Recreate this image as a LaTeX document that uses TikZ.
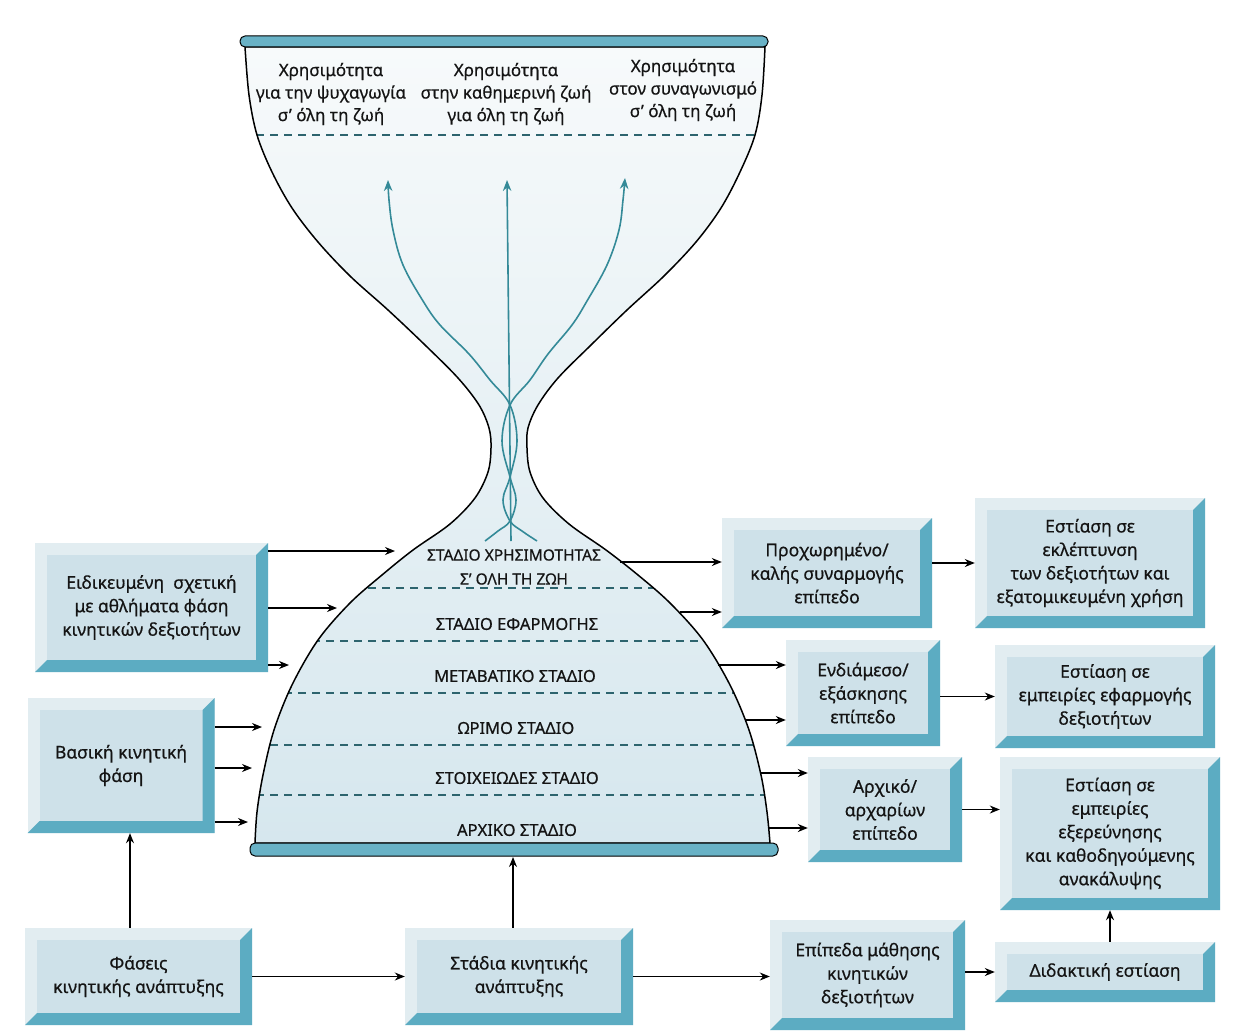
\documentclass[tikz,border=0pt]{standalone}
\usepackage{fontspec}
\setmainfont{Noto Sans}[FakeBold=0.6]
\usetikzlibrary{arrows.meta}
\definecolor{bvteal}{RGB}{92,172,194}
\definecolor{bvface}{RGB}{206,225,233}
\definecolor{bvlight}{RGB}{226,237,241}
\definecolor{strand}{RGB}{52,138,152}
\definecolor{barteal}{RGB}{105,178,198}
\definecolor{dashc}{RGB}{45,100,110}
\definecolor{txt}{RGB}{20,20,20}
\definecolor{hgtop}{RGB}{247,250,251}
\definecolor{hgmid}{RGB}{233,242,245}
\definecolor{hgbot}{RGB}{214,231,238}
\newlength\bvd
\setlength\bvd{12pt}
\def\hgpath{plot[smooth, tension=0.55] coordinates {(245,47) (249,95) (257,135) (272,172) (292,208) (318,242) (350,276) (388,310) (425,345) (458,378) (479,405) (489,428) (491,448) (488,472) (475,498) (450,524) (413,550) (382,575) (350,603) (318,640) (292,685) (274,730) (263,775) (257,812) (255,843)}
 -- plot[smooth, tension=0.55] coordinates {(770,843) (767,812) (761,775) (749,730) (730,685) (703,640) (670,603) (638,575) (606,550) (569,524) (543,498) (530,472) (527,448) (528,428) (538,405) (558,378) (591,345) (627,310) (664,276) (696,242) (721,208) (740,172) (755,135) (762,95) (765,47)} -- cycle}
\tikzset{
  bx/.style={fill=bvlight, inner sep=0pt, align=center, text=txt,
    font=\fontsize{17.5}{23.5}\selectfont,
    path picture={
      \fill[bvface] ([shift={(\bvd,-\bvd)}]path picture bounding box.north west) rectangle ([shift={(-\bvd,\bvd)}]path picture bounding box.south east);
      \fill[bvteal] (path picture bounding box.north east) -- (path picture bounding box.south east) -- (path picture bounding box.south west) -- ([shift={(\bvd,\bvd)}]path picture bounding box.south west) -- ([shift={(-\bvd,\bvd)}]path picture bounding box.south east) -- ([shift={(-\bvd,-\bvd)}]path picture bounding box.north east) -- cycle;
    }},
  arr/.style={draw=black, line width=1.3pt, -{Stealth[length=10pt,width=8pt]}},
  sarr/.style={draw=strand, line width=1.6pt, -{Stealth[length=11pt,width=8.5pt]}},
  toplbl/.style={align=center, text=txt, inner sep=0pt, font=\fontsize{17}{22.5}\selectfont},
  stg/.style={align=center, text=txt, inner sep=0pt, font=\fontsize{16.5}{24}\selectfont},
  dsh/.style={draw=dashc, line width=1.1pt, dash pattern=on 8pt off 6pt},
  bar/.style={draw=black, line width=1pt, fill=barteal, rounded corners=5pt}
}
\begin{document}
\begin{tikzpicture}[x=1pt,y=-1pt]
\useasboundingbox[fill=white] (0,0) rectangle (1242,1033);

% hourglass body
\shade[top color=hgtop, middle color=hgmid, bottom color=hgbot] \hgpath;
\begin{scope}
  \clip \hgpath;
  \foreach \yy in {135,588,641,693,745,795} {
    \draw[dsh] (200,\yy) -- (820,\yy);
  }
\end{scope}
\draw[line width=1.5pt] \hgpath;

% bars
\draw[bar] (240,36) rectangle (768,47);
\draw[bar] (250,843) rectangle (778,856);

% strands
\draw[sarr] (511,541) -- (507,180);
\draw[sarr] plot[smooth, tension=0.6] coordinates {(537,541) (522,531) (510,521) (503,500) (510,477) (517,441) (510,405) (490,380) (469,354) (440,325) (423,301) (403,265) (393,230) (389,200) (388,180)};
\draw[sarr] plot[smooth, tension=0.6] coordinates {(485,541) (498,531) (510,521) (516,500) (510,477) (502,441) (510,405) (530,380) (548,354) (572,325) (587,301) (607,265) (619,230) (623,200) (625,178)};

% top labels
\node[toplbl] (u1) at (331,94) {Χρησιμότητα\\για την ψυχαγωγία\\σ’ όλη τη ζωή};
\node[toplbl] (u2) at (506,94) {Χρησιμότητα\\στην καθημερινή ζωή\\για όλη τη ζωή};
\node[toplbl] (u3) at (683,90) {Χρησιμότητα\\στον συναγωνισμό\\σ’ όλη τη ζωή};

% stage labels
\node[stg, font=\fontsize{15.5}{24}\selectfont] (s6) at (514,567) {ΣΤΑΔΙΟ ΧΡΗΣΙΜΟΤΗΤΑΣ\\Σ’ ΟΛΗ ΤΗ ΖΩΗ};
\node[stg] (s5) at (517,624) {ΣΤΑΔΙΟ ΕΦΑΡΜΟΓΗΣ};
\node[stg] (s4) at (515,676) {ΜΕΤΑΒΑΤΙΚΟ ΣΤΑΔΙΟ};
\node[stg] (s3) at (516,728) {ΩΡΙΜΟ ΣΤΑΔΙΟ};
\node[stg] (s2) at (517,778) {ΣΤΟΙΧΕΙΩΔΕΣ ΣΤΑΔΙΟ};
\node[stg] (s1) at (517,830) {ΑΡΧΙΚΟ ΣΤΑΔΙΟ};

% boxes
\node[bx, minimum width=233pt, minimum height=129pt] (A) at (151.5,607.5) {Ειδικευμένη \ σχετική\\με αθλήματα φάση\\κινητικών δεξιοτήτων};
\node[bx, minimum width=187pt, minimum height=135pt] (B) at (121,765.5) {Βασική κινητική\\φάση};
\node[bx, minimum width=227pt, minimum height=97pt] (C) at (138.5,976.5) {Φάσεις\\κινητικής ανάπτυξης};
\node[bx, minimum width=228pt, minimum height=97pt] (D) at (519,976.5) {Στάδια κινητικής\\ανάπτυξης};
\node[bx, minimum width=195pt, minimum height=110pt] (E) at (867.5,975) {Επίπεδα μάθησης\\κινητικών\\δεξιοτήτων};
\node[bx, minimum width=220pt, minimum height=60pt] (F) at (1105,972) {Διδακτική εστίαση};
\node[bx, minimum width=210pt, minimum height=110pt] (G) at (827,573) {Προχωρημένο/\\καλής συναρμογής\\επίπεδο};
\node[bx, minimum width=230pt, minimum height=130pt] (H) at (1090,563) {Εστίαση σε\\εκλέπτυνση\\των δεξιοτήτων και\\εξατομικευμένη χρήση};
\node[bx, minimum width=154pt, minimum height=106pt] (I) at (863,693) {Ενδιάμεσο/\\εξάσκησης\\επίπεδο};
\node[bx, minimum width=220pt, minimum height=103pt] (J) at (1105,696.5) {Εστίαση σε\\εμπειρίες εφαρμογής\\δεξιοτήτων};
\node[bx, minimum width=154pt, minimum height=105pt] (K) at (885,809.5) {Αρχικό/\\αρχαρίων\\επίπεδο};
\node[bx, minimum width=220pt, minimum height=153pt] (L) at (1110,833.5) {Εστίαση σε\\εμπειρίες\\εξερεύνησης\\και καθοδηγούμενης\\ανακάλυψης};

% free ends on the hourglass
\coordinate (hA1) at (395,551);
\coordinate (hA2) at (337,608);
\coordinate (hA3) at (289,665);
\coordinate (hB1) at (262,727);
\coordinate (hB2) at (252,768);
\coordinate (hB3) at (248,822);
\coordinate (hG1) at (620,562);
\coordinate (hG2) at (680,612);
\coordinate (hI1) at (718,665);
\coordinate (hI2) at (745,720);
\coordinate (hK1) at (761,773);
\coordinate (hK2) at (769,828);
\coordinate (bar) at (513,857);

% connectors
\draw[arr] (A.east |- hA1) -- (hA1);
\draw[arr] (A.east |- hA2) -- (hA2);
\draw[arr] (A.east |- hA3) -- (hA3);
\draw[arr] (B.east |- hB1) -- (hB1);
\draw[arr] (B.east |- hB2) -- (hB2);
\draw[arr] (B.east |- hB3) -- (hB3);
\draw[arr] (hG1) -- (G.west |- hG1);
\draw[arr] (hG2) -- (G.west |- hG2);
\draw[arr] (hI1) -- (I.west |- hI1);
\draw[arr] (hI2) -- (I.west |- hI2);
\draw[arr] (hK1) -- (K.west |- hK1);
\draw[arr] (hK2) -- (K.west |- hK2);
\draw[arr] (C.north -| 130,0) -- (B.south -| 130,0);
\draw[arr] (D.north -| bar) -- (bar);
\draw[arr] (C.east) -- (D.west);
\draw[arr] (D.east) -- (E.west |- D.east);
\draw[arr] (E.east |- F.west) -- (F.west);
\draw[arr] (F.north -| 1110,0) -- (L.south -| 1110,0);
\draw[arr] (G.east |- H.west) -- (H.west);
\draw[arr] (I.east |- J.west) -- (J.west);
\draw[arr] (K.east) -- (L.west |- K.east);
\end{tikzpicture}
\end{document}
